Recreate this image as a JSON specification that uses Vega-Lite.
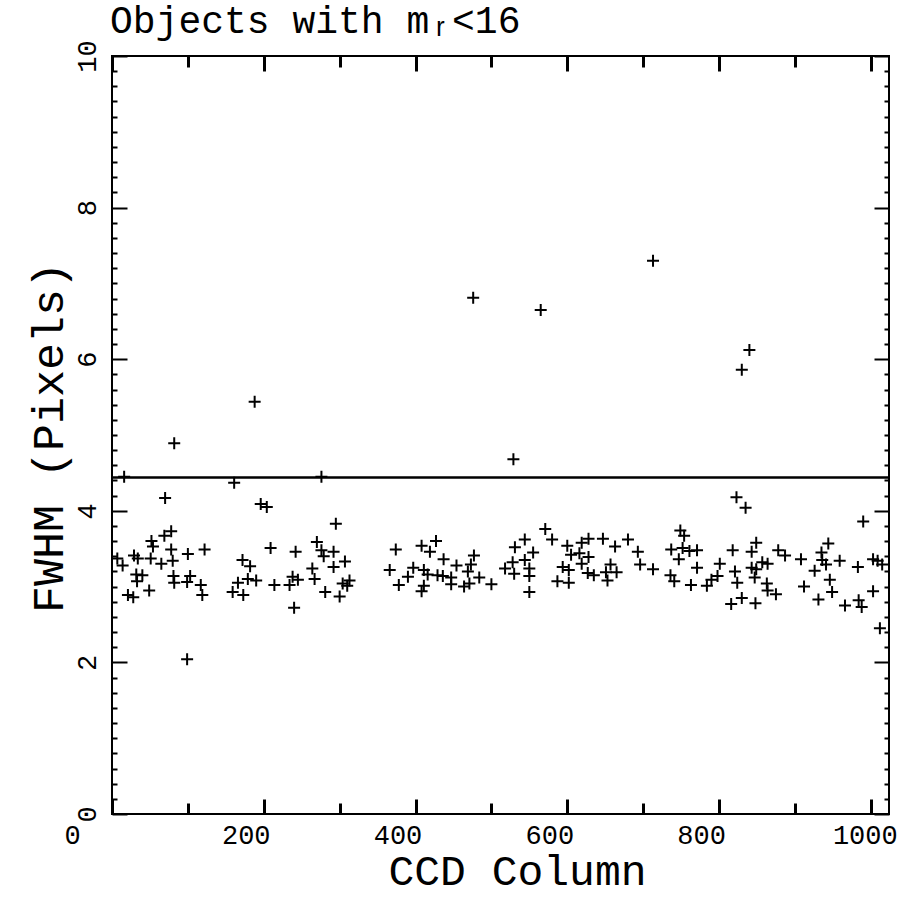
{
  "$schema": "https://vega.github.io/schema/vega-lite/v6.json",
  "width": 777,
  "height": 758,
  "autosize": {"type": "none"},
  "padding": {"left": 112, "top": 56, "right": 12, "bottom": 83},
  "background": "white",
  "title": {
    "text": "Objects with mᵣ<16",
    "anchor": "start",
    "frame": "group",
    "orient": "top",
    "font": "Liberation Mono",
    "fontSize": 38,
    "fontWeight": "normal",
    "color": "black",
    "baseline": "alphabetic",
    "offset": 7,
    "dx": -2,
    "dy": 38
  },
  "datasets": {
    "pts": [
      {"col": 82, "fwhm": 4.89}, {"col": 188, "fwhm": 5.44}, {"col": 476, "fwhm": 6.81}, {"col": 565, "fwhm": 6.65},
      {"col": 713, "fwhm": 7.30}, {"col": 840, "fwhm": 6.12}, {"col": 830, "fwhm": 5.86}, {"col": 529, "fwhm": 4.68},
      {"col": 16, "fwhm": 4.45}, {"col": 161, "fwhm": 4.37}, {"col": 276, "fwhm": 4.45},
      {"col": 70, "fwhm": 4.17}, {"col": 196, "fwhm": 4.09}, {"col": 204, "fwhm": 4.05}, {"col": 295, "fwhm": 3.83},
      {"col": 69, "fwhm": 3.67}, {"col": 78, "fwhm": 3.73}, {"col": 52, "fwhm": 3.60}, {"col": 54, "fwhm": 3.53},
      {"col": 78, "fwhm": 3.49}, {"col": 100, "fwhm": 3.43}, {"col": 122, "fwhm": 3.49}, {"col": 209, "fwhm": 3.51},
      {"col": 242, "fwhm": 3.46}, {"col": 270, "fwhm": 3.59}, {"col": 276, "fwhm": 3.48}, {"col": 279, "fwhm": 3.40},
      {"col": 292, "fwhm": 3.46}, {"col": 307, "fwhm": 3.33}, {"col": 292, "fwhm": 3.26}, {"col": 264, "fwhm": 3.24},
      {"col": 7, "fwhm": 3.37}, {"col": 14, "fwhm": 3.28}, {"col": 29, "fwhm": 3.41}, {"col": 34, "fwhm": 3.37},
      {"col": 51, "fwhm": 3.37}, {"col": 65, "fwhm": 3.30}, {"col": 80, "fwhm": 3.34}, {"col": 32, "fwhm": 3.16},
      {"col": 40, "fwhm": 3.15}, {"col": 33, "fwhm": 3.07}, {"col": 81, "fwhm": 3.14}, {"col": 82, "fwhm": 3.05},
      {"col": 99, "fwhm": 3.06}, {"col": 103, "fwhm": 3.14}, {"col": 117, "fwhm": 3.02}, {"col": 119, "fwhm": 2.89},
      {"col": 21, "fwhm": 2.89}, {"col": 28, "fwhm": 2.86}, {"col": 49, "fwhm": 2.95}, {"col": 99, "fwhm": 2.04},
      {"col": 172, "fwhm": 3.35}, {"col": 182, "fwhm": 3.27}, {"col": 179, "fwhm": 3.10}, {"col": 190, "fwhm": 3.08},
      {"col": 166, "fwhm": 3.05}, {"col": 159, "fwhm": 2.93}, {"col": 173, "fwhm": 2.89}, {"col": 214, "fwhm": 3.02},
      {"col": 234, "fwhm": 3.02}, {"col": 238, "fwhm": 3.13}, {"col": 245, "fwhm": 3.09}, {"col": 240, "fwhm": 2.72},
      {"col": 267, "fwhm": 3.10}, {"col": 281, "fwhm": 2.93}, {"col": 300, "fwhm": 2.87}, {"col": 304, "fwhm": 3.04},
      {"col": 313, "fwhm": 3.08}, {"col": 310, "fwhm": 3.01},
      {"col": 571, "fwhm": 3.76}, {"col": 580, "fwhm": 3.62}, {"col": 544, "fwhm": 3.62}, {"col": 531, "fwhm": 3.52},
      {"col": 555, "fwhm": 3.45}, {"col": 374, "fwhm": 3.49}, {"col": 408, "fwhm": 3.54}, {"col": 427, "fwhm": 3.60},
      {"col": 419, "fwhm": 3.46}, {"col": 437, "fwhm": 3.36}, {"col": 454, "fwhm": 3.28}, {"col": 477, "fwhm": 3.41},
      {"col": 473, "fwhm": 3.29}, {"col": 469, "fwhm": 3.20}, {"col": 366, "fwhm": 3.22}, {"col": 397, "fwhm": 3.25},
      {"col": 411, "fwhm": 3.22}, {"col": 416, "fwhm": 3.16}, {"col": 429, "fwhm": 3.15}, {"col": 436, "fwhm": 3.14},
      {"col": 447, "fwhm": 3.12}, {"col": 390, "fwhm": 3.13}, {"col": 378, "fwhm": 3.02}, {"col": 411, "fwhm": 3.01},
      {"col": 408, "fwhm": 2.94}, {"col": 447, "fwhm": 3.03}, {"col": 464, "fwhm": 3.00}, {"col": 471, "fwhm": 3.04},
      {"col": 484, "fwhm": 3.12}, {"col": 500, "fwhm": 3.03}, {"col": 518, "fwhm": 3.24}, {"col": 528, "fwhm": 3.32},
      {"col": 544, "fwhm": 3.35}, {"col": 530, "fwhm": 3.17}, {"col": 550, "fwhm": 3.24}, {"col": 550, "fwhm": 3.14},
      {"col": 550, "fwhm": 2.93}, {"col": 600, "fwhm": 3.54}, {"col": 619, "fwhm": 3.58}, {"col": 628, "fwhm": 3.63},
      {"col": 647, "fwhm": 3.63}, {"col": 663, "fwhm": 3.53}, {"col": 680, "fwhm": 3.62}, {"col": 605, "fwhm": 3.42},
      {"col": 616, "fwhm": 3.44}, {"col": 628, "fwhm": 3.39}, {"col": 619, "fwhm": 3.30}, {"col": 594, "fwhm": 3.26},
      {"col": 602, "fwhm": 3.22}, {"col": 627, "fwhm": 3.18}, {"col": 635, "fwhm": 3.15}, {"col": 651, "fwhm": 3.19},
      {"col": 657, "fwhm": 3.29}, {"col": 665, "fwhm": 3.19}, {"col": 653, "fwhm": 3.08}, {"col": 587, "fwhm": 3.07},
      {"col": 602, "fwhm": 3.05},
      {"col": 823, "fwhm": 4.18}, {"col": 835, "fwhm": 4.04}, {"col": 990, "fwhm": 3.86}, {"col": 693, "fwhm": 3.46},
      {"col": 696, "fwhm": 3.29}, {"col": 713, "fwhm": 3.23}, {"col": 749, "fwhm": 3.74}, {"col": 754, "fwhm": 3.67},
      {"col": 737, "fwhm": 3.49}, {"col": 752, "fwhm": 3.51}, {"col": 761, "fwhm": 3.47}, {"col": 771, "fwhm": 3.48},
      {"col": 747, "fwhm": 3.36}, {"col": 771, "fwhm": 3.25}, {"col": 736, "fwhm": 3.15}, {"col": 741, "fwhm": 3.07},
      {"col": 763, "fwhm": 3.02}, {"col": 784, "fwhm": 3.01}, {"col": 790, "fwhm": 3.09}, {"col": 798, "fwhm": 3.14},
      {"col": 801, "fwhm": 3.30}, {"col": 818, "fwhm": 3.48}, {"col": 843, "fwhm": 3.46}, {"col": 849, "fwhm": 3.58},
      {"col": 821, "fwhm": 3.20}, {"col": 824, "fwhm": 3.05}, {"col": 816, "fwhm": 2.77}, {"col": 830, "fwhm": 2.85},
      {"col": 848, "fwhm": 2.78}, {"col": 843, "fwhm": 3.25}, {"col": 849, "fwhm": 3.23}, {"col": 847, "fwhm": 3.12},
      {"col": 857, "fwhm": 3.32}, {"col": 864, "fwhm": 3.30}, {"col": 863, "fwhm": 3.04}, {"col": 864, "fwhm": 2.95},
      {"col": 875, "fwhm": 2.90}, {"col": 878, "fwhm": 3.48}, {"col": 887, "fwhm": 3.41}, {"col": 908, "fwhm": 3.36},
      {"col": 926, "fwhm": 3.21}, {"col": 912, "fwhm": 3.00}, {"col": 935, "fwhm": 3.45}, {"col": 944, "fwhm": 3.57},
      {"col": 936, "fwhm": 3.35}, {"col": 941, "fwhm": 3.29}, {"col": 959, "fwhm": 3.34}, {"col": 946, "fwhm": 3.09},
      {"col": 949, "fwhm": 2.93}, {"col": 931, "fwhm": 2.83}, {"col": 966, "fwhm": 2.75}, {"col": 984, "fwhm": 2.82},
      {"col": 988, "fwhm": 2.73}, {"col": 983, "fwhm": 3.26}, {"col": 1003, "fwhm": 2.94}, {"col": 1003, "fwhm": 3.36},
      {"col": 1009, "fwhm": 3.34}, {"col": 1015, "fwhm": 3.29}, {"col": 1012, "fwhm": 2.45}
    ],
    "cut": [{"c0": 0, "c1": 1024, "level": 4.44}]
  },
  "layer": [
    {
      "data": {"name": "pts"},
      "mark": {
        "type": "point",
        "shape": "M-1,0L1,0M0,-1L0,1",
        "filled": false,
        "stroke": "black",
        "strokeWidth": 2,
        "size": 144,
        "opacity": 1
      },
      "encoding": {
        "x": {
          "field": "col",
          "type": "quantitative",
          "scale": {"domain": [0, 1024], "nice": false, "zero": false},
          "axis": {
            "orient": "bottom",
            "values": [0, 200, 400, 600, 800, 1000],
            "format": "d",
            "labelFontSize": 27,
            "labelBaseline": "alphabetic",
            "labelAlign": "center",
            "labelPadding": 44,
            "labelOffset": {"condition": [{"test": "datum.value === 0", "value": -40}, {"test": "datum.value === 1000", "value": -6}], "value": -18},
            "labelFlush": false,
            "labelOverlap": false,
            "ticks": true,
            "tickColor": "black",
            "tickWidth": 3,
            "tickSize": -15,
            "title": "CCD Column",
            "titleFontSize": 43,
            "titleBaseline": "alphabetic",
            "titleAlign": "center",
            "titleX": 405,
            "titleY": 70
          }
        },
        "y": {
          "field": "fwhm",
          "type": "quantitative",
          "scale": {"domain": [0, 10], "nice": false, "zero": false},
          "axis": {
            "orient": "left",
            "values": [0, 2, 4, 6, 8, 10],
            "format": "d",
            "labelAngle": 270,
            "labelAlign": "center",
            "labelBaseline": "alphabetic",
            "labelPadding": 32,
            "labelFontSize": 27,
            "labelFlush": false,
            "labelOverlap": false,
            "tickSize": -15,
            "title": "FWHM (Pixels)",
            "titleFontSize": 45,
            "titleAngle": 270,
            "titleBaseline": "alphabetic",
            "titleAlign": "center",
            "titleX": -50,
            "titleY": 381
          }
        }
      }
    },
    {
      "data": {"name": "cut"},
      "mark": {"type": "rule", "stroke": "black", "strokeWidth": 2},
      "encoding": {
        "x": {
          "field": "c0",
          "type": "quantitative",
          "scale": {"domain": [0, 1024], "nice": false, "zero": false},
          "axis": {
            "orient": "top",
            "values": [0, 100, 200, 300, 400, 500, 600, 700, 800, 900, 1000],
            "labels": false,
            "title": null,
            "ticks": true,
            "tickColor": "black",
            "tickWidth": 3,
            "tickSize": {"condition": {"test": "datum.value % 200 === 0", "value": -15}, "value": -11}
          }
        },
        "x2": {"field": "c1"},
        "y": {
          "field": "level",
          "type": "quantitative",
          "scale": {"domain": [0, 10], "nice": false, "zero": false},
          "axis": {
            "orient": "right",
            "values": [0, 0.2, 0.4, 0.6, 0.8, 1, 1.2, 1.4, 1.6, 1.8, 2, 2.2, 2.4, 2.6, 2.8, 3, 3.2, 3.4, 3.6, 3.8, 4, 4.2, 4.4, 4.6, 4.8, 5, 5.2, 5.4, 5.6, 5.8, 6, 6.2, 6.4, 6.6, 6.8, 7, 7.2, 7.4, 7.6, 7.8, 8, 8.2, 8.4, 8.6, 8.8, 9, 9.2, 9.4, 9.6, 9.8, 10],
            "labels": false,
            "title": null,
            "tickSize": {"condition": {"test": "datum.value % 2 === 0", "value": -15}, "value": -5}
          }
        }
      }
    },
    {
      "data": {"name": "cut"},
      "mark": {"type": "rule", "stroke": "black", "strokeWidth": 2},
      "encoding": {
        "x": {
          "field": "c0",
          "type": "quantitative",
          "scale": {"domain": [0, 1024], "nice": false, "zero": false},
          "axis": {
            "orient": "bottom",
            "values": [100, 300, 500, 700, 900],
            "labels": false,
            "title": null,
            "ticks": true,
            "tickColor": "black",
            "tickWidth": 3,
            "tickSize": -11
          }
        },
        "x2": {"field": "c1"},
        "y": {
          "field": "level",
          "type": "quantitative",
          "scale": {"domain": [0, 10], "nice": false, "zero": false},
          "axis": {
            "orient": "left",
            "values": [0.2, 0.4, 0.6, 0.8, 1, 1.2, 1.4, 1.6, 1.8, 2.2, 2.4, 2.6, 2.8, 3, 3.2, 3.4, 3.6, 3.8, 4.2, 4.4, 4.6, 4.8, 5, 5.2, 5.4, 5.6, 5.8, 6.2, 6.4, 6.6, 6.8, 7, 7.2, 7.4, 7.6, 7.8, 8.2, 8.4, 8.6, 8.8, 9, 9.2, 9.4, 9.6, 9.8],
            "labels": false,
            "title": null,
            "tickSize": -5
          }
        }
      }
    }
  ],
  "resolve": {"axis": {"x": "independent", "y": "independent"}},
  "config": {
    "view": {"stroke": "black", "strokeWidth": 2},
    "axis": {
      "domain": false,
      "grid": false,
      "ticks": true,
      "minExtent": 0,
      "tickColor": "black",
      "tickWidth": 2,
      "labelColor": "black",
      "labelFont": "Liberation Mono",
      "titleFont": "Liberation Mono",
      "titleFontWeight": "normal",
      "titleColor": "black"
    }
  }
}
